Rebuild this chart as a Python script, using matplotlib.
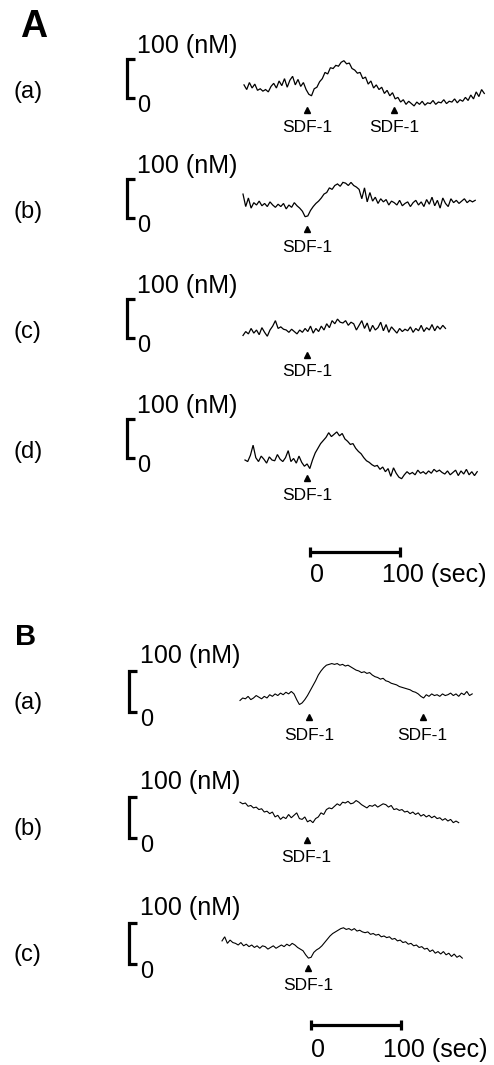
import numpy as np
import matplotlib
matplotlib.use("Agg")
import matplotlib.pyplot as plt
from matplotlib.transforms import Affine2D, blended_transform_factory as blend

plt.rcParams['font.family'] = ['Liberation Sans', 'DejaVu Sans']

# ---------------- data (nM, sampled every 3 s) ----------------
DT = 3.0
A_a = [108, 96, 114, 100, 110, 94, 98, 92, 96, 90, 104, 112, 100, 118, 106, 124, 102, 120, 130, 108,
       122, 104, 114, 96, 84, 80, 98, 102, 116, 124, 140, 136, 152, 150, 158, 156, 166, 170, 162, 164,
       150, 146, 138, 140, 124, 128, 110, 118, 100, 108, 96, 102, 86, 94, 80, 88, 72, 76, 64, 70,
       58, 66, 60, 54, 64, 58, 66, 56, 62, 60, 68, 58, 64, 62, 70, 60, 66, 64, 72, 62,
       70, 66, 76, 68, 82, 72, 90, 78, 96, 86]
A_b = [128, 96, 118, 92, 106, 100, 110, 98, 104, 96, 108, 100, 94, 102, 96, 104, 90, 100, 94, 106,
       98, 92, 84, 70, 72, 86, 96, 104, 110, 118, 128, 132, 144, 140, 150, 154, 148, 158, 156, 150,
       158, 150, 146, 140, 116, 144, 108, 132, 110, 120, 104, 116, 108, 114, 100, 110, 106, 100, 112, 98,
       104, 108, 96, 106, 112, 100, 108, 96, 114, 102, 120, 98, 112, 92, 118, 104, 96, 116, 106, 112,
       104, 110, 116, 106, 112, 108, 112]
A_c = [86, 96, 90, 104, 92, 100, 88, 106, 94, 84, 100, 110, 124, 104, 108, 102, 100, 94, 102, 96,
       90, 100, 94, 104, 96, 110, 92, 104, 96, 110, 100, 116, 106, 124, 116, 128, 120, 118, 124, 112,
       120, 116, 100, 112, 124, 104, 118, 96, 112, 100, 106, 120, 98, 114, 94, 108, 100, 92, 104, 96,
       102, 98, 108, 94, 104, 98, 112, 96, 106, 100, 114, 98, 110, 102, 112, 104]
A_d = [100, 96, 112, 138, 106, 96, 110, 102, 92, 108, 100, 98, 114, 102, 96, 106, 124, 96, 104, 92,
       110, 94, 84, 90, 78, 100, 118, 130, 142, 150, 158, 170, 160, 166, 172, 162, 168, 154, 148, 140,
       142, 130, 122, 116, 106, 98, 94, 88, 84, 86, 76, 82, 70, 78, 58, 80, 66, 56, 52, 62,
       70, 64, 68, 62, 74, 66, 70, 64, 72, 66, 76, 70, 74, 68, 64, 72, 62, 68, 74, 60,
       72, 64, 76, 62, 70, 60, 70]
B_a = [94, 100, 98, 104, 96, 100, 106, 102, 98, 104, 100, 108, 104, 110, 106, 112, 108, 114, 110, 116,
       110, 96, 84, 88, 96, 106, 118, 130, 142, 156, 166, 174, 180, 182, 184, 182, 184, 180, 182, 178,
       180, 176, 172, 168, 166, 162, 164, 160, 162, 156, 152, 150, 146, 148, 142, 140, 136, 134, 132, 128,
       126, 124, 122, 120, 116, 114, 110, 104, 100, 108, 104, 110, 106, 108, 104, 110, 106, 108, 112, 106,
       110, 104, 112, 108, 116, 106, 110]
B_b = [102, 98, 100, 92, 94, 88, 90, 84, 86, 78, 80, 74, 78, 66, 70, 60, 66, 62, 72, 64,
       70, 76, 62, 60, 66, 54, 58, 52, 62, 66, 76, 72, 84, 88, 86, 92, 98, 94, 102, 100,
       104, 98, 100, 106, 102, 96, 92, 88, 94, 92, 96, 90, 94, 98, 96, 90, 94, 84, 86, 82,
       84, 78, 80, 74, 78, 72, 76, 68, 72, 66, 70, 64, 68, 62, 64, 58, 62, 56, 60, 52,
       56, 52]
B_c = [110, 120, 104, 112, 106, 104, 100, 106, 98, 102, 96, 100, 94, 98, 92, 98, 96, 90, 94, 98,
       92, 96, 100, 96, 102, 98, 104, 100, 94, 90, 86, 76, 68, 70, 82, 88, 92, 98, 106, 114,
       122, 128, 132, 136, 140, 142, 138, 140, 136, 140, 134, 136, 132, 130, 132, 126, 128, 124, 126, 120,
       122, 118, 120, 114, 116, 110, 112, 106, 108, 102, 104, 98, 100, 94, 96, 90, 92, 84, 88, 80,
       84, 78, 84, 76, 80, 72, 78, 70, 74, 68]

traces = {"A": [A_a, A_b, A_c, A_d], "B": [B_a, B_b, B_c]}
row_labels = {"A": ["(a)", "(b)", "(c)", "(d)"], "B": ["(a)", "(b)", "(c)"]}
stim_times = {"A": [[70, 167], [71], [71], [69]], "B": [[77, 203], [74], [96]]}
stim_label = "SDF-1"
conc_label = "100 (nM)"
zero_label = "0"
time_labels = ["0", "100 (sec)"]
time_bar = [0, 100]

# ---------------- layout (pixels) ----------------
W, H = 494, 1065
fig = plt.figure(figsize=(W / 100, H / 100), dpi=100)
PX = Affine2D().scale(1 / W, -1 / H).translate(0, 1) + fig.transFigure
PXS = 0.9  # px per second

layout = {
    "A": dict(x0=[244, 243, 243, 245], ybase=[88, 205, 330, 460], k=0.39,
              lab=[46, 166, 286, 406], labx=137, brx=127, brtop=13, zgap=8, rowlab=46,
              arr=[110, 229, 355, 478], sdf=[127, 247, 372, 496], lw=0.9),
    "B": dict(x0=[240, 240, 222], ybase=[698, 803, 945], k=0.41,
              lab=[656, 782, 908], labx=140, brx=129, brtop=15, zgap=8, rowlab=47,
              arr=[717, 840, 968], sdf=[736, 858, 986], lw=0.8),
}


def make_axes(x0, ybase, k):
    ax = fig.add_axes([0, 0, 1, 1])
    ax.set_xlim(-x0 / PXS, (W - x0) / PXS)
    ax.set_ylim(100 - (H - ybase) / k, 100 + ybase / k)
    ax.set_axis_off()
    ax.patch.set_visible(False)
    return ax


for panel in ["A", "B"]:
    L = layout[panel]
    for i, vals in enumerate(traces[panel]):
        ax = make_axes(L["x0"][i], L["ybase"][i], L["k"])
        v = np.asarray(vals, float)
        t = np.arange(len(v)) * DT
        ax.plot(t, v, color="black", lw=L["lw"], solid_joinstyle="miter")
        # arrows + SDF-1
        tx_y = blend(ax.transData, PX)
        for ts in stim_times[panel][i]:
            ax.plot([ts], [L["arr"][i]], marker="^", ms=5, color="black", transform=tx_y)
            ax.text(ts, L["sdf"][i], stim_label, transform=tx_y, ha="center", va="center",
                    fontsize=12.5)
        # 100 nM bracket (scale bar in data units)
        ly = L["lab"][i]
        top_px = ly + L["brtop"]
        v_top = 100 - (top_px - L["ybase"][i]) / L["k"]
        v_bot = v_top - 100
        bx = L["brx"]
        tr = blend(PX, ax.transData)
        ax.plot([bx + 8, bx, bx, bx + 8], [v_bot, v_bot, v_top, v_top], color="black",
                lw=2.3, transform=tr, solid_joinstyle="miter", solid_capstyle="butt")
        ax.text(L["labx"], ly, conc_label, transform=PX, ha="left", va="center", fontsize=18)
        bot_px = top_px + 100 * L["k"]
        ax.text(L["labx"], bot_px + L["zgap"], zero_label, transform=PX, ha="left",
                va="center", fontsize=17)
        ax.text(13, ly + L["rowlab"], row_labels[panel][i], transform=PX, ha="left",
                va="center", fontsize=17)

# panel letters
fig.text(20, 27, "A", transform=PX, ha="left", va="center", fontsize=27, fontweight="bold")
fig.text(15, 637, "B", transform=PX, ha="left", va="center", fontsize=21, fontweight="bold")

# time scale bars
for bar_x, bar_y, txt_y in [(310, 552, 575), (311, 1025, 1050)]:
    ax = make_axes(bar_x, 500, 0.4)
    tr = blend(ax.transData, PX)
    ax.plot(time_bar, [bar_y, bar_y], color="black", lw=2.3, transform=tr, solid_capstyle="butt")
    for tb in time_bar:
        ax.plot([tb, tb], [bar_y - 5, bar_y + 5], color="black", lw=2.3, transform=tr,
                solid_capstyle="butt")
    ax.text(time_bar[0], txt_y, time_labels[0], transform=tr, ha="left", va="center", fontsize=18)
    ax.text(time_bar[1] - 20, txt_y, time_labels[1], transform=tr, ha="left", va="center",
            fontsize=18)

fig.savefig("out.png", dpi=100)
